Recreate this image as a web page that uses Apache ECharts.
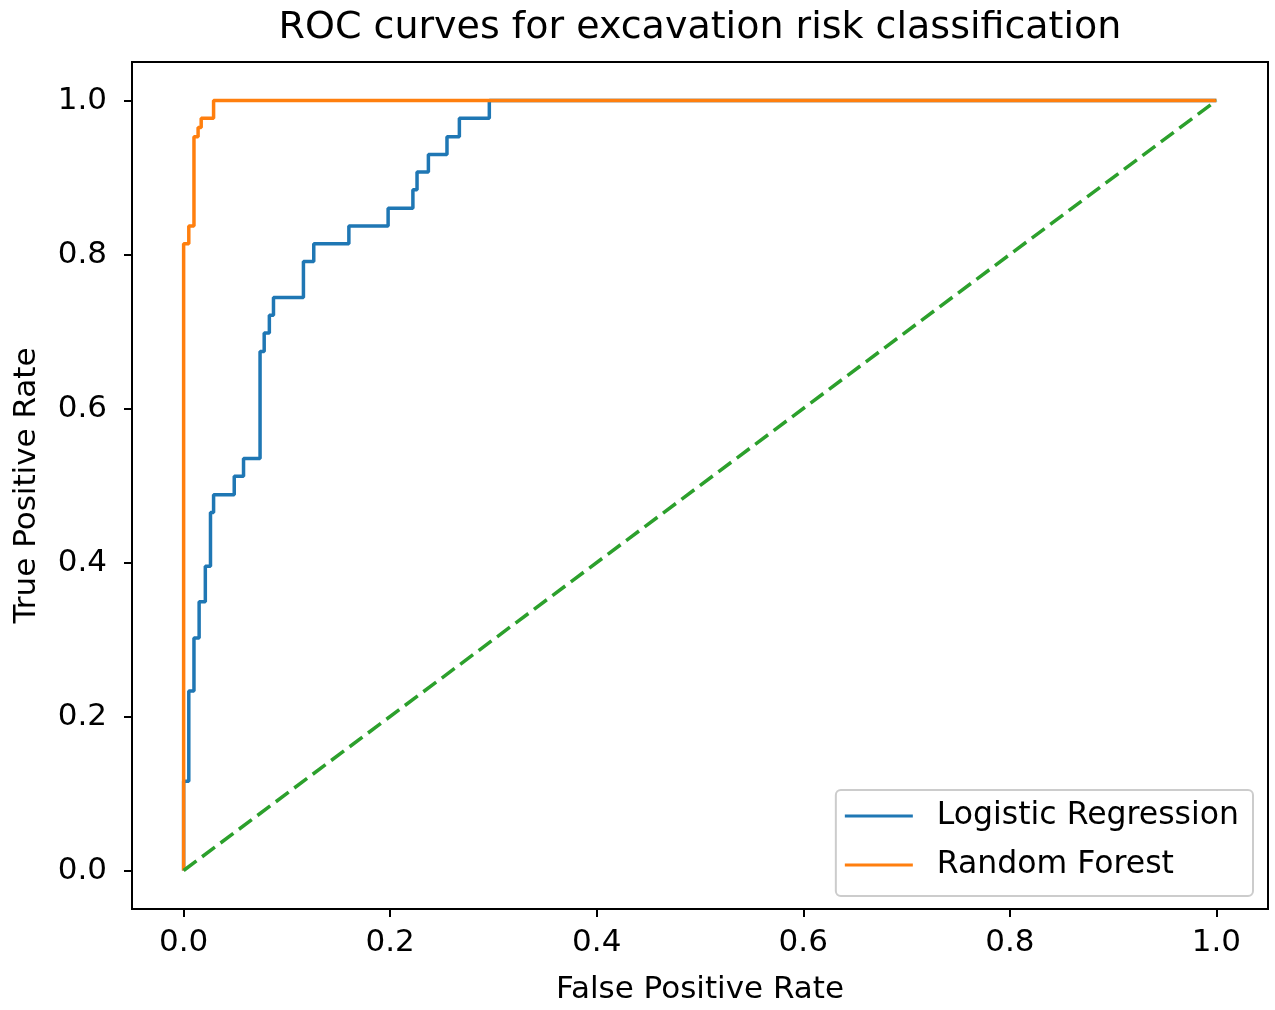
<!DOCTYPE html>
<html lang="en">
<head>
  <meta charset="utf-8">
  <title>ROC curves</title>
  <script src="https://cdn.jsdelivr.net/npm/echarts@6/dist/echarts.min.js"></script>
  <style>
    html, body { margin: 0; padding: 0; background: #fff; }
    #roc { width: 1275px; height: 1010px; }
  </style>
</head>
<body>
<div id="roc"></div>
<script>
  // values
  var seriesNames = ['Logistic Regression', 'Random Forest'];
  var tickValues = [0, 0.2, 0.4, 0.6, 0.8, 1.0];

  var lrFpr = [0, 0, 0.005, 0.005, 0.010, 0.010, 0.015, 0.015, 0.021, 0.021,
               0.026, 0.026, 0.029, 0.029, 0.049, 0.049, 0.058, 0.058, 0.074, 0.074,
               0.078, 0.078, 0.083, 0.083, 0.087, 0.087, 0.116, 0.116, 0.126, 0.126,
               0.160, 0.160, 0.198, 0.198, 0.222, 0.222, 0.226, 0.226, 0.237, 0.237,
               0.255, 0.255, 0.267, 0.267, 0.296, 0.296, 1.0];
  var lrTpr = [0, 0.116, 0.116, 0.233, 0.233, 0.302, 0.302, 0.349, 0.349, 0.395,
               0.395, 0.465, 0.465, 0.488, 0.488, 0.512, 0.512, 0.535, 0.535, 0.674,
               0.674, 0.698, 0.698, 0.721, 0.721, 0.744, 0.744, 0.791, 0.791, 0.814,
               0.814, 0.837, 0.837, 0.860, 0.860, 0.884, 0.884, 0.907, 0.907, 0.930,
               0.930, 0.953, 0.953, 0.977, 0.977, 1.0, 1.0];

  var rfFpr = [0, 0, 0.005, 0.005, 0.010, 0.010, 0.014, 0.014, 0.017, 0.017, 0.029, 0.029, 1.0];
  var rfTpr = [0, 0.814, 0.814, 0.837, 0.837, 0.953, 0.953, 0.965, 0.965, 0.977, 0.977, 1.0, 1.0];

  var chanceFpr = [0, 1];
  var chanceTpr = [0, 1];

  function pairs(xs, ys) {
    var out = [];
    for (var i = 0; i < xs.length; ++i) {
      out.push([xs[i], ys[i]]);
    }
    return out;
  }

  var font = 'DejaVu Sans';
  var chart = echarts.init(document.getElementById('roc'));

  var axisCommon = {
    type: 'value',
    min: -0.05,
    max: 1.05,
    nameLocation: 'middle',
    nameTextStyle: { fontFamily: font, fontSize: 31, color: '#000' },
    axisLine: { show: true, onZero: false, lineStyle: { color: '#000', width: 2 } },
    axisTick: { show: true, customValues: tickValues, length: 8, lineStyle: { color: '#000', width: 2 } },
    axisLabel: {
      customValues: tickValues,
      fontFamily: font,
      fontSize: 31,
      color: '#000',
      formatter: function (v) { return v.toFixed(1); }
    },
    splitLine: { show: false }
  };

  var option = {
    animation: false,
    backgroundColor: '#fff',
    title: {
      text: 'ROC curves for excavation risk classification',
      left: 700,
      textAlign: 'center',
      top: 9,
      padding: 0,
      textStyle: { fontFamily: font, fontSize: 38, fontWeight: 'normal', color: '#000' }
    },
    legend: {
      data: seriesNames,
      orient: 'vertical',
      right: 22,
      top: 790,
      icon: 'rect',
      itemWidth: 68,
      itemHeight: 3,
      itemGap: 17,
      padding: [10, 14, 15, 9],
      backgroundColor: 'rgba(255,255,255,0.8)',
      borderColor: '#cccccc',
      borderWidth: 2,
      borderRadius: 5,
      textStyle: { fontFamily: font, fontSize: 31.5, color: '#000', padding: [0, 0, 0, 19] }
    },
    grid: {
      left: 132,
      right: 7,
      top: 62,
      bottom: 100,
      show: true,
      borderColor: '#000',
      borderWidth: 2,
      containLabel: false
    },
    xAxis: Object.assign({}, axisCommon, {
      name: 'False Positive Rate',
      nameGap: 65,
      axisLabel: Object.assign({}, axisCommon.axisLabel, { margin: 18 })
    }),
    yAxis: Object.assign({}, axisCommon, {
      name: 'True Positive Rate',
      nameGap: 90,
      axisLabel: Object.assign({}, axisCommon.axisLabel, { margin: 25 })
    }),
    series: [
      {
        name: seriesNames[0],
        type: 'line',
        symbol: 'none',
        color: '#1f77b4',
        lineStyle: { width: 3.5, color: '#1f77b4' },
        data: pairs(lrFpr, lrTpr)
      },
      {
        name: seriesNames[1],
        type: 'line',
        symbol: 'none',
        color: '#ff7f0e',
        lineStyle: { width: 3.5, color: '#ff7f0e' },
        data: pairs(rfFpr, rfTpr)
      },
      {
        name: 'chance',
        type: 'line',
        symbol: 'none',
        color: '#2ca02c',
        lineStyle: { width: 3.5, color: '#2ca02c', type: [16, 7] },
        data: pairs(chanceFpr, chanceTpr)
      }
    ]
  };

  chart.setOption(option);
</script>
</body>
</html>
